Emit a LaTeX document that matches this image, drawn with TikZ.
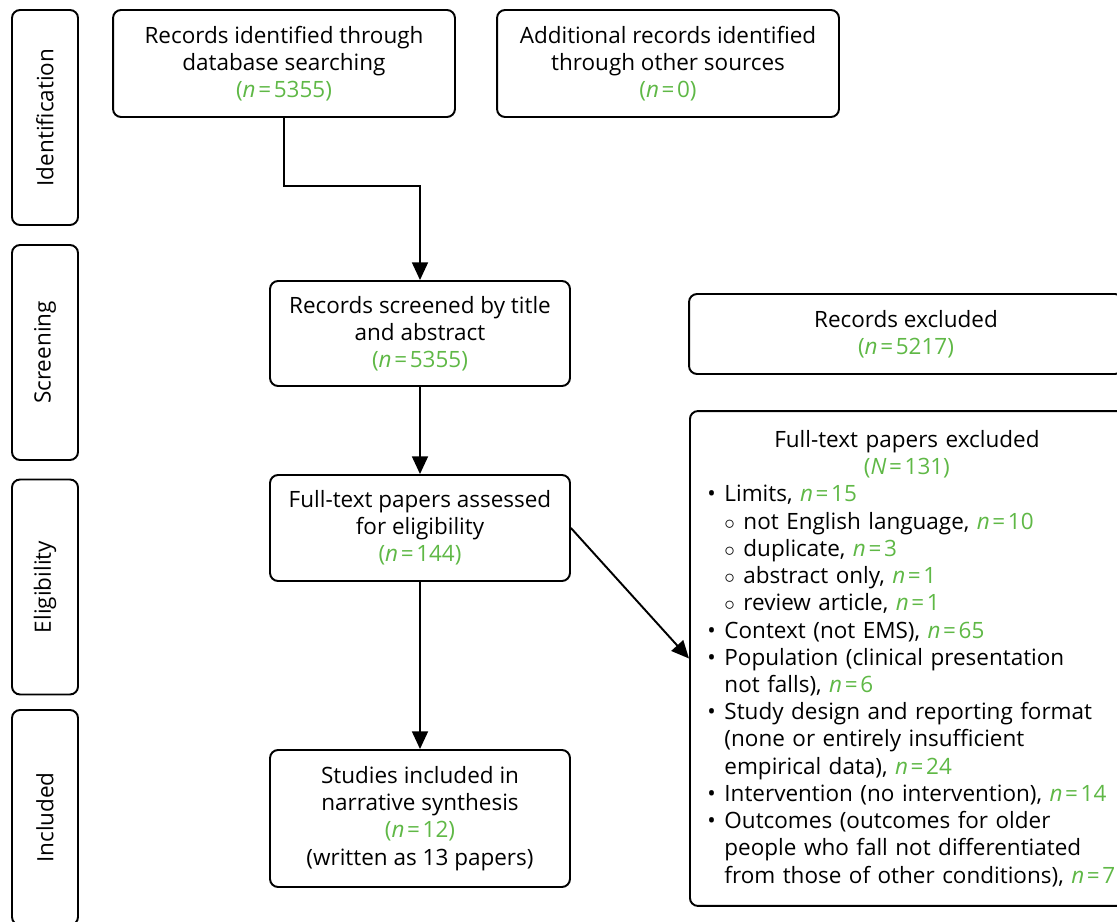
\documentclass[tikz,border=0pt]{standalone}
\usepackage{fontspec}
\setmainfont{Open Sans}
\usetikzlibrary{arrows.meta}
\definecolor{prgreen}{RGB}{95,184,70}
\newcommand{\nval}[2]{\textcolor{prgreen}{(\textit{#1}\kern1.5pt=\kern1.5pt#2)}}
\newcommand{\nc}[1]{\textcolor{prgreen}{\textit{n}\kern1.5pt=\kern1.5pt#1}}
\newcommand{\bl}{\makebox[0.34cm][l]{\textbullet}}
\newcommand{\sbl}{\hspace*{0.34cm}\makebox[0.38cm][l]{$\circ$}}
\newcommand{\ind}{\hspace*{0.34cm}}

\begin{document}
\begin{tikzpicture}[x=0.02cm,y=-0.02cm,
    every node/.style={font=\fontsize{12.8}{15.5}\selectfont},
    box/.style={draw,line width=1.1pt,rounded corners=0.16cm,align=center,inner sep=0pt},
    sidebox/.style={box,minimum width=1.32cm,minimum height=4.3cm},
    arr/.style={line width=1.1pt,-{Triangle[length=10pt,width=9pt]}}]
    \useasboundingbox (0,0) rectangle (1117,922);
    \clip (0,0) rectangle (1117,922);
    \foreach \lab/\yc/\nm in {Identification/117.5/sident,Screening/352.5/sscreen,Eligibility/587/selig,Included/817.5/sincl}{
        \node[sidebox] (\nm) at (45,\yc) {};
        \node[rotate=90] at (\nm) {\lab};
    }

    \node[box,minimum width=6.84cm,minimum height=2.14cm] (idbox) at (284,63.5) {Records identified through\\database searching\\\nval{n}{5355}};
    \node[box,minimum width=6.84cm,minimum height=2.14cm] (addbox) at (668,63.5) {Additional records identified\\through other sources\\\nval{n}{0}};
    \node[box,minimum width=6cm,minimum height=2.1cm] (scrbox) at (420,333.5) {Records screened by title\\and abstract\\\nval{n}{5355}};
    \node[box,minimum width=6cm,minimum height=2.12cm] (fullbox) at (420,528) {Full-text papers assessed\\for eligibility\\\nval{n}{144}};
    \node[box,minimum width=6cm,minimum height=2.74cm] (inclbox) at (420,818.5) {Studies included in\\narrative synthesis\\\nval{n}{12}\\(written as 13 papers)};
    \node[box,minimum width=8.68cm,minimum height=1.6cm] (exclbox) at (906,334) {Records excluded\\\nval{n}{5217}};
    \node[draw,line width=1.1pt,rounded corners=0.16cm,minimum height=9.9cm,anchor=west,
        inner xsep=0.35cm,inner ysep=0pt,text width=8.4cm] (ftexcl) at (689,658.5) {%
        {\centering\hspace*{-0.42cm}Full-text papers excluded\\\hspace*{-0.42cm}\nval{N}{131}\par}
        \raggedright
        \bl Limits, \nc{15}\\
        \sbl not English language, \nc{10}\\
        \sbl duplicate, \nc{3}\\
        \sbl abstract only, \nc{1}\\
        \sbl review article, \nc{1}\\
        \bl Context (not EMS), \nc{65}\\
        \bl Population (clinical presentation\\
        \ind not falls), \nc{6}\\
        \bl Study design and reporting format\\
        \ind (none or entirely insufficient\\
        \ind empirical data), \nc{24}\\
        \bl Intervention (no intervention), \nc{14}\\
        \bl Outcomes (outcomes for older\\
        \ind people who fall not differentiated\\
        \ind from those of other conditions), \nc{7}};

    \coordinate (bend) at (420,186);
    \draw[arr] (idbox.south) |- (bend) -- (scrbox.north);
    \draw[arr] (scrbox) -- (fullbox);
    \draw[arr] (fullbox) -- (inclbox);
    \draw[arr] (fullbox.east) -- (ftexcl.west);
\end{tikzpicture}
\end{document}
